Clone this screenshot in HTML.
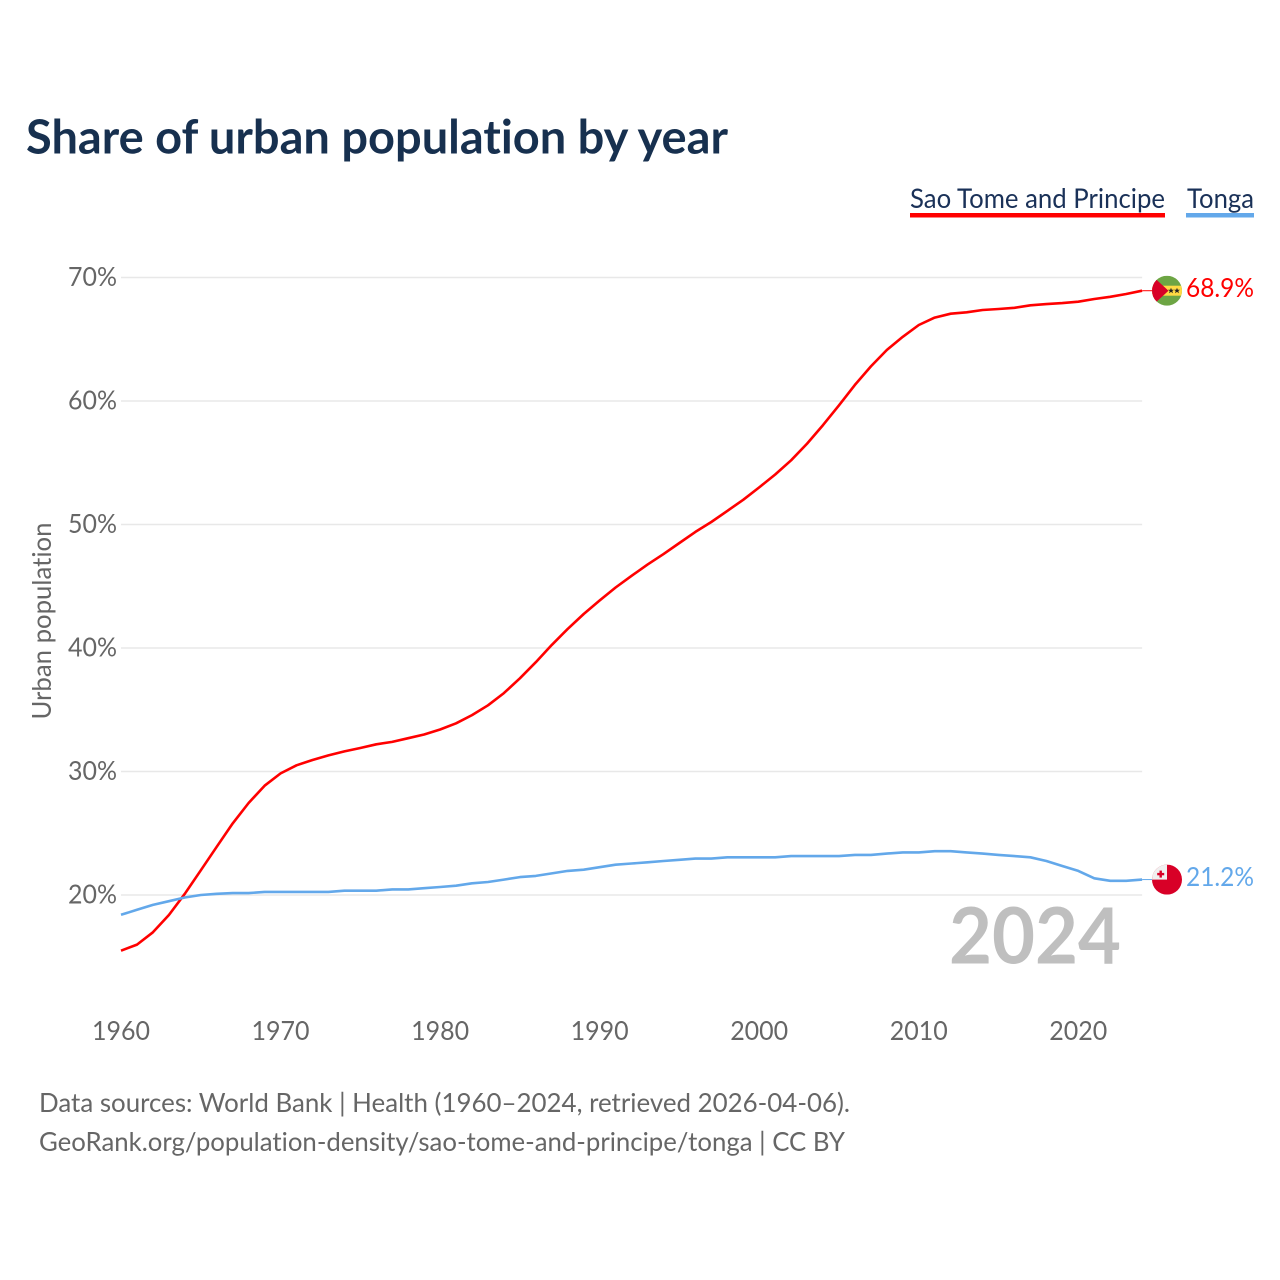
<!DOCTYPE html>
<html lang="en">
<head>
<meta charset="utf-8">
<title>Share of urban population by year</title>
<style>
html,body{margin:0;padding:0;background:#fff}
svg{display:block}
text{font-family:"Lato","Carlito","Liberation Sans",sans-serif;font-variant-ligatures:none}
</style>
</head>
<body>
<svg id="chart" xmlns="http://www.w3.org/2000/svg" width="1280" height="1280" viewBox="0 0 1280 1280">
  <rect width="1280" height="1280" fill="#ffffff"/>
  <text x="26" y="153.5" font-size="47" font-weight="700" fill="#17304f" textLength="702" lengthAdjust="spacingAndGlyphs">Share of urban population by year</text>

  <g>
    <g>
      <text x="910" y="208" font-size="27.5" fill="#1a3158" textLength="255" lengthAdjust="spacingAndGlyphs">Sao Tome and Principe</text>
      <rect x="910" y="213" width="255" height="4.5" fill="#ff0000"/>
    </g>
    <g>
      <text x="1187" y="208" font-size="27.5" fill="#1a3158" textLength="67" lengthAdjust="spacingAndGlyphs">Tonga</text>
      <rect x="1186" y="213" width="68" height="4.5" fill="#63a8ea"/>
    </g>
  </g>

  <g id="grid"></g>
  <g id="yTicks"></g>
  <g id="xTicks"></g>
  <text transform="translate(51 621) rotate(-90)" text-anchor="middle" font-size="26" fill="#666666" textLength="197" lengthAdjust="spacingAndGlyphs">Urban population</text>

  <text id="yearMark" x="949" y="963.5" font-size="78" font-weight="700" fill="#bfbfbf" textLength="172" lengthAdjust="spacingAndGlyphs"></text>

  <g id="series"></g>

  <defs>
    <clipPath id="flagClip"><circle cx="0" cy="0" r="15"/></clipPath>
  </defs>

  <g id="flagST">
    <g clip-path="url(#flagClip)">
      <rect x="-15" y="-15" width="30" height="30" fill="#6da544"/>
      <rect x="-15" y="-5" width="30" height="10" fill="#ffda44"/>
      <polygon points="-15,-15 -10.5,-11 1.5,0 -10.5,11 -15,15" fill="#d80027"/>
      <polygon points="4,-3 4.8,-1 7,-1 5.3,0.3 6,2.5 4,1.2 2,2.5 2.7,0.3 1,-1 3.2,-1" fill="#222222"/>
      <polygon points="10,-3 10.8,-1 13,-1 11.3,0.3 12,2.5 10,1.2 8,2.5 8.7,0.3 7,-1 9.2,-1" fill="#222222"/>
    </g>
  </g>
  <g id="flagTO">
    <g clip-path="url(#flagClip)">
      <rect x="-15" y="-15" width="30" height="30" fill="#d80027"/>
      <rect x="-15" y="-15" width="15" height="15" fill="#f0f0f0"/>
      <rect x="-7.5" y="-9" width="2.4" height="7" fill="#d80027"/>
      <rect x="-9.8" y="-6.7" width="7" height="2.4" fill="#d80027"/>
    </g>
  </g>

  <text x="39" y="1112" font-size="26.5" fill="#666666" textLength="811" lengthAdjust="spacingAndGlyphs">Data sources: World Bank | Health (1960–2024, retrieved 2026-04-06).</text>
  <text x="39" y="1151" font-size="26.5" fill="#666666" textLength="806" lengthAdjust="spacingAndGlyphs">GeoRank.org/population-density/sao-tome-and-principe/tonga | CC BY</text>
</svg>
<script>
const years = [1960,1961,1962,1963,1964,1965,1966,1967,1968,1969,1970,1971,1972,1973,1974,1975,1976,1977,1978,1979,1980,1981,1982,1983,1984,1985,1986,1987,1988,1989,1990,1991,1992,1993,1994,1995,1996,1997,1998,1999,2000,2001,2002,2003,2004,2005,2006,2007,2008,2009,2010,2011,2012,2013,2014,2015,2016,2017,2018,2019,2020,2021,2022,2023,2024];
const saoTomeValues = [15.49,15.98,16.98,18.38,20.1,22.0,23.9,25.8,27.45,28.85,29.85,30.5,30.93,31.3,31.63,31.9,32.2,32.4,32.7,33.0,33.4,33.9,34.57,35.36,36.35,37.55,38.85,40.25,41.55,42.75,43.85,44.9,45.85,46.75,47.6,48.5,49.4,50.2,51.1,52.0,53.0,54.05,55.2,56.55,58.05,59.65,61.3,62.8,64.13,65.2,66.15,66.75,67.07,67.18,67.37,67.45,67.55,67.75,67.85,67.93,68.04,68.26,68.44,68.66,68.93];
const tongaValues = [18.4,18.8,19.2,19.5,19.8,20.0,20.1,20.15,20.15,20.25,20.25,20.25,20.25,20.25,20.35,20.35,20.35,20.45,20.45,20.55,20.65,20.75,20.95,21.05,21.25,21.45,21.55,21.75,21.95,22.05,22.25,22.45,22.55,22.65,22.75,22.85,22.95,22.95,23.05,23.05,23.05,23.05,23.15,23.15,23.15,23.15,23.25,23.25,23.35,23.45,23.45,23.55,23.55,23.45,23.35,23.25,23.15,23.05,22.75,22.35,21.95,21.35,21.15,21.15,21.25];
const yTickValues = [20,30,40,50,60,70];
const xTickYears = [1960,1970,1980,1990,2000,2010,2020];
const endLabels = ["68.9%","21.2%"];

const NS = "http://www.w3.org/2000/svg";
const xScale = v => 121 + (v - 1960) * 15.955;
const yScale = v => 895 - (v - 20) * 12.35;

const grid = document.getElementById("grid");
const yTicks = document.getElementById("yTicks");
const xTicks = document.getElementById("xTicks");
const seriesGroup = document.getElementById("series");

yTickValues.forEach(v => {
  const line = document.createElementNS(NS, "line");
  
  
  line.setAttribute("x1", xScale(1960));
  line.setAttribute("x2", xScale(2024));
  line.setAttribute("y1", yScale(v));
  line.setAttribute("y2", yScale(v));
  line.setAttribute("stroke", "#e8e8e8");
  line.setAttribute("stroke-width", "1.5");
  grid.appendChild(line);

  const label = document.createElementNS(NS, "text");
  
  
  label.setAttribute("x", 117);
  label.setAttribute("y", yScale(v) + 8.5);
  label.setAttribute("text-anchor", "end");
  label.setAttribute("font-size", "26.5");
  label.setAttribute("fill", "#666666");
  label.setAttribute("textLength", "49");
  label.setAttribute("lengthAdjust", "spacingAndGlyphs");
  label.textContent = v + "%";
  yTicks.appendChild(label);
});

xTickYears.forEach(v => {
  const label = document.createElementNS(NS, "text");
  
  
  label.setAttribute("x", xScale(v));
  label.setAttribute("y", 1040);
  label.setAttribute("text-anchor", "middle");
  label.setAttribute("font-size", "26.5");
  label.setAttribute("fill", "#666666");
  label.setAttribute("textLength", "58");
  label.setAttribute("lengthAdjust", "spacingAndGlyphs");
  label.textContent = v;
  xTicks.appendChild(label);
});

function drawSeries(values, color, flagId, labelText) {
  const pts = years.map((yr, i) => xScale(yr).toFixed(1) + "," + yScale(values[i]).toFixed(1));
  const last = values[values.length - 1];
  const endX = xScale(years[years.length - 1]);
  const endY = yScale(last);

  const path = document.createElementNS(NS, "polyline");
  
  
  path.setAttribute("points", pts.join(" "));
  path.setAttribute("fill", "none");
  path.setAttribute("stroke", color);
  path.setAttribute("stroke-width", "2.6");
  path.setAttribute("stroke-linejoin", "round");
  seriesGroup.appendChild(path);

  const connector = document.createElementNS(NS, "line");
  
  
  connector.setAttribute("x1", endX);
  connector.setAttribute("x2", endX + 12);
  connector.setAttribute("y1", endY);
  connector.setAttribute("y2", endY);
  connector.setAttribute("stroke", color);
  connector.setAttribute("stroke-width", "1");
  seriesGroup.appendChild(connector);

  document.getElementById(flagId).setAttribute("transform", "translate(1167 " + endY.toFixed(1) + ")");

  const label = document.createElementNS(NS, "text");
  
  
  label.setAttribute("x", 1186);
  label.setAttribute("y", endY + 6.5);
  label.setAttribute("font-size", "26.5");
  label.setAttribute("fill", color);
  label.setAttribute("textLength", "68");
  label.setAttribute("lengthAdjust", "spacingAndGlyphs");
  label.textContent = labelText;
  seriesGroup.appendChild(label);
}

drawSeries(saoTomeValues, "#ff0000", "flagST", endLabels[0]);
drawSeries(tongaValues, "#63a8ea", "flagTO", endLabels[1]);
document.getElementById("yearMark").textContent = years[years.length - 1];
</script>
</body>
</html>
